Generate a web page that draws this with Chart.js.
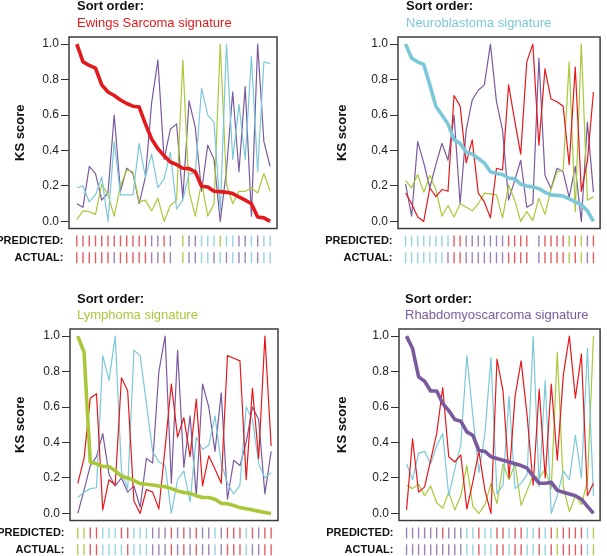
<!DOCTYPE html>
<html>
<head>
<meta charset="utf-8">
<script src="https://cdn.jsdelivr.net/npm/chart.js@4/dist/chart.umd.min.js"></script>
<style>
  body { margin: 0; background: #fff; }
  #wrap { position: relative; width: 607px; height: 556px; overflow: hidden; font-family: 'Liberation Sans', Arial, sans-serif; }
  .t { position: absolute; font-size: 13px; line-height: 13px; font-weight: bold; color: #111; white-space: nowrap; }
  .s { position: absolute; font-size: 13px; line-height: 13px; white-space: nowrap; }
  .p { position: absolute; }
</style>
</head>
<body>
<div id="wrap">
  <div class="p" style="left:0;top:0;width:300px;height:278px"><canvas id="c1"></canvas></div>
  <div class="p" style="left:300px;top:0;width:307px;height:278px"><canvas id="c2"></canvas></div>
  <div class="p" style="left:0;top:292px;width:300px;height:278px"><canvas id="c3"></canvas></div>
  <div class="p" style="left:300px;top:292px;width:307px;height:278px"><canvas id="c4"></canvas></div>

  <div class="t" style="left:77px;top:-1px">Sort order:</div>
  <div class="s" style="left:77px;top:16px;color:#e3191c">Ewings Sarcoma signature</div>
  <div class="t" style="left:406px;top:-1px">Sort order:</div>
  <div class="s" style="left:406px;top:15.5px;color:#7cc8d9">Neuroblastoma signature</div>
  <div class="t" style="left:77px;top:292px">Sort order:</div>
  <div class="s" style="left:77px;top:307.5px;color:#a8c83a">Lymphoma signature</div>
  <div class="t" style="left:405px;top:292px">Sort order:</div>
  <div class="s" style="left:405px;top:307.5px;color:#7a5a9f">Rhabdomyoscarcoma signature</div>
</div>
<script>
// KS scores per sample, samples ordered by the panel's sort signature
// E = Ewings, N = Neuroblastoma, L = Lymphoma, R = Rhabdomyosarcoma
const ewsSortE = [1.0, 0.90, 0.88, 0.865, 0.77, 0.73, 0.71, 0.685, 0.665, 0.65, 0.645, 0.55, 0.465, 0.41, 0.37, 0.335, 0.32, 0.30, 0.298, 0.28, 0.198, 0.194, 0.17, 0.168, 0.164, 0.157, 0.138, 0.12, 0.10, 0.025, 0.02, 0.0];
const ewsSortN = [0.19, 0.20, 0.11, 0.15, 0.25, 0.0, 0.45, 0.15, 0.15, 0.15, 0.44, 0.25, 0.38, 0.19, 0.24, 0.39, 0.07, 0.12, 0.27, 0.27, 0.75, 0.60, 0.56, 0.06, 1.0, 0.35, 0.66, 0.35, 0.93, 0.28, 0.90, 0.89];
const ewsSortL = [0.01, 0.06, 0.055, 0.04, 0.21, 0.15, 0.03, 0.20, 0.29, 0.28, 0.11, 0.12, 0.06, 0.13, 0.0, 0.09, 0.12, 0.91, 0.17, 0.03, 0.22, 0.03, 0.10, 1.0, 0.21, 0.10, 0.17, 0.17, 0.19, 0.16, 0.27, 0.17];
const ewsSortR = [0.10, 0.08, 0.31, 0.27, 0.12, 0.16, 0.60, 0.17, 0.30, 0.27, 0.10, 0.25, 0.67, 0.91, 0.35, 0.52, 0.55, 0.13, 0.68, 0.53, 0.17, 0.43, 0.35, 0.0, 0.29, 0.73, 0.28, 0.76, 0.03, 1.0, 0.45, 0.31];
const ewsSortPredicted = 'EEEEEEEEEEEERRER-LRRNNNLNNRRNRNN';
const ewsSortActual    = 'EEEEEEREEEEERRER-LRRNNRNRNRRNRNN';

const nbSortE = [0.16, 0.10, 0.025, 0.0, 0.19, 0.14, 0.18, 0.17, 0.71, 0.65, 0.33, 0.46, 0.16, 0.11, 0.02, 0.30, 0.29, 0.77, 0.57, 0.38, 0.90, 1.0, 0.43, 0.86, 0.69, 0.675, 0.65, 0.32, 0.87, 0.17, 0.34, 0.73];
const nbSortN = [1.0, 0.92, 0.90, 0.885, 0.77, 0.65, 0.60, 0.55, 0.46, 0.44, 0.39, 0.38, 0.355, 0.33, 0.28, 0.27, 0.265, 0.245, 0.24, 0.21, 0.20, 0.195, 0.185, 0.165, 0.15, 0.147, 0.143, 0.128, 0.11, 0.095, 0.06, 0.0];
const nbSortL = [0.23, 0.19, 0.265, 0.165, 0.26, 0.18, 0.03, 0.09, 0.025, 0.10, 0.08, 0.06, 0.10, 0.16, 0.155, 0.15, 0.02, 0.205, 0.12, 0.0, 0.055, 0.005, 0.13, 0.04, 0.18, 0.28, 0.29, 0.90, 0.055, 1.0, 0.12, 0.14];
const nbSortR = [0.21, 0.03, 0.45, 0.33, 0.19, 0.32, 0.44, 0.345, 0.60, 0.10, 0.515, 0.685, 0.74, 0.77, 1.0, 0.675, 0.515, 0.12, 0.23, 0.345, 0.08, 0.10, 0.92, 0.26, 0.185, 0.30, 0.28, 0.135, 0.31, 0.0, 0.56, 0.165];
const nbSortPredicted = 'NNNNNNNNEERRRRRRREEEE-REEEELELRE';
const nbSortActual    = 'NNNNNNNREERRRRRRREEEE-REEEELELRE';

const blSortE = [0.17, 0.31, 0.65, 0.675, 0.02, 0.19, 0.16, 0.765, 0.69, 0.07, 0.0, 0.135, 0.12, 0.025, 0.37, 0.73, 0.43, 0.54, 0.32, 0.645, 0.155, 0.325, 0.25, 0.17, 0.89, 0.875, 0.86, 0.19, 0.705, 0.31, 1.0, 0.38];
const blSortN = [0.09, 0.12, 0.14, 0.145, 0.89, 0.75, 1.0, 0.24, 0.14, 0.92, 0.89, 0.62, 0.35, 0.29, 0.27, 0.0, 0.19, 0.24, 0.065, 0.43, 0.36, 0.385, 0.55, 0.28, 0.17, 0.11, 0.16, 0.60, 0.53, 0.28, 0.20, 0.23];
const blSortL = [1.0, 0.91, 0.29, 0.28, 0.265, 0.265, 0.24, 0.21, 0.20, 0.185, 0.168, 0.165, 0.16, 0.155, 0.15, 0.14, 0.127, 0.118, 0.113, 0.10, 0.09, 0.09, 0.08, 0.057, 0.055, 0.045, 0.033, 0.026, 0.02, 0.013, 0.005, 0.0];
const blSortR = [0.0, 0.13, 0.27, 0.32, 0.45, 0.22, 0.155, 0.20, 0.12, 0.155, 0.035, 0.31, 0.285, 0.80, 1.0, 0.17, 0.92, 0.26, 0.55, 0.10, 0.73, 0.60, 0.35, 0.68, 0.08, 0.30, 0.27, 0.40, 0.60, 0.53, 0.11, 0.35];
const blSortPredicted = 'LLEENNNEENNNRRRERERERRNREEENEREE';
const blSortActual    = 'LLEENNNNENNNRRRERERERRNREEENRREE';

const rmsSortE = [0.02, 0.42, 0.12, 0.15, 0.30, 0.45, 0.71, 0.32, 0.29, 0.33, 0.025, 0.18, 0.35, 0.13, 0.0, 0.87, 0.69, 0.20, 0.66, 0.86, 0.55, 0.16, 0.70, 0.20, 0.73, 0.30, 0.78, 1.0, 0.65, 0.90, 0.10, 0.17];
const rmsSortN = [0.28, 0.19, 0.34, 0.35, 0.28, 0.38, 0.45, 0.10, 0.25, 0.39, 0.89, 0.55, 0.23, 0.45, 0.88, 0.11, 0.16, 0.66, 0.14, 0.17, 0.22, 1.0, 0.15, 0.75, 0.0, 0.10, 0.24, 0.19, 0.44, 0.20, 0.93, 0.10];
const rmsSortL = [0.16, 0.14, 0.165, 0.10, 0.155, 0.06, 0.03, 0.12, 0.02, 0.10, 0.27, 0.04, 0.0, 0.05, 0.17, 0.055, 0.28, 0.19, 0.28, 0.045, 0.13, 0.215, 0.20, 0.25, 0.14, 0.91, 0.15, 0.01, 0.10, 0.05, 0.18, 1.0];
const rmsSortR = [1.0, 0.93, 0.77, 0.745, 0.69, 0.69, 0.62, 0.58, 0.53, 0.52, 0.46, 0.44, 0.355, 0.35, 0.32, 0.31, 0.30, 0.29, 0.28, 0.27, 0.255, 0.21, 0.17, 0.17, 0.175, 0.13, 0.12, 0.11, 0.10, 0.08, 0.04, 0.0];
const rmsSortPredicted = 'RRRRRRERRRNNENNEENEENNENELEEEENL';
const rmsSortActual    = 'RRRRRRRRRRNNENNEENEENNENELEEEENL';

const yTickValues = [0, 0.2, 0.4, 0.6, 0.8, 1.0];
const predictedY = -0.11;
const actualY = -0.205;

const classColors = { E: '#e3191c', N: '#7cc8d9', L: '#a8c83a', R: '#7a5a9f' };
const tickColors = { E: 'rgba(214,40,44,0.75)', N: 'rgba(124,200,217,0.8)', L: 'rgba(160,196,50,0.85)', R: 'rgba(122,90,159,0.75)' };
const fontFamily = "'Liberation Sans', Arial, sans-serif";

Chart.defaults.font.family = fontFamily;

const panelDeco = {
  id: 'panelDeco',
  afterDatasetsDraw(chart, args, opts) {
    const { ctx, chartArea, scales: { y } } = chart;
    const top = y.getPixelForValue(1.04);
    const bottom = y.getPixelForValue(-0.04);
    ctx.save();
    ctx.strokeStyle = '#3c3c3c';
    ctx.lineWidth = 1.5;
    ctx.strokeRect(chartArea.left, top, chartArea.right - chartArea.left, bottom - top);

    ctx.fillStyle = '#111';
    ctx.font = 'bold 11px ' + fontFamily;
    ctx.textAlign = 'right';
    ctx.textBaseline = 'middle';
    ctx.fillText('PREDICTED:', chartArea.left - 5.5, y.getPixelForValue(predictedY) + 0.5);
    ctx.fillText('ACTUAL:', chartArea.left - 5.5, y.getPixelForValue(actualY) + 0.5);

    ctx.translate(opts.titleX, y.getPixelForValue(0.5));
    ctx.rotate(-Math.PI / 2);
    ctx.font = 'bold 13px ' + fontFamily;
    ctx.textAlign = 'center';
    ctx.fillText('KS score', 0, 0);
    ctx.restore();
  }
};

function lineSet(values, code, width) {
  return {
    data: values.map((v, i) => ({ x: i, y: v })),
    borderColor: classColors[code],
    borderWidth: width,
    pointRadius: 0,
    tension: 0,
    fill: false,
    borderJoinStyle: 'round'
  };
}

function tickSet(codes, yVal) {
  const pts = [];
  const cols = [];
  codes.split('').forEach((c, i) => {
    if (c !== '-') {
      pts.push({ x: i, y: yVal });
      cols.push(tickColors[c]);
    }
  });
  return {
    data: pts,
    showLine: false,
    pointStyle: 'line',
    rotation: 90,
    pointRadius: 5.5,
    pointBorderColor: cols,
    pointBorderWidth: 1.4,
    clip: false
  };
}

const panels = [
  { id: 'c1', axisW: 69, padRight: 23, titleX: 20, sortBy: 'E',
    series: { E: ewsSortE, N: ewsSortN, L: ewsSortL, R: ewsSortR }, pred: ewsSortPredicted, act: ewsSortActual },
  { id: 'c2', axisW: 98, padRight: 2, titleX: 42, sortBy: 'N',
    series: { E: nbSortE, N: nbSortN, L: nbSortL, R: nbSortR }, pred: nbSortPredicted, act: nbSortActual },
  { id: 'c3', axisW: 70, padRight: 22, titleX: 20, sortBy: 'L',
    series: { E: blSortE, N: blSortN, L: blSortL, R: blSortR }, pred: blSortPredicted, act: blSortActual },
  { id: 'c4', axisW: 99, padRight: 1, titleX: 42, sortBy: 'R',
    series: { E: rmsSortE, N: rmsSortN, L: rmsSortL, R: rmsSortR }, pred: rmsSortPredicted, act: rmsSortActual }
];

panels.forEach(p => {
  const datasets = [lineSet(p.series[p.sortBy], p.sortBy, 3.6)];
  ['E', 'N', 'L', 'R'].forEach(code => {
    if (code !== p.sortBy) datasets.push(lineSet(p.series[code], code, 1.2));
  });
  datasets.push(tickSet(p.pred, predictedY));
  datasets.push(tickSet(p.act, actualY));

  new Chart(document.getElementById(p.id), {
    type: 'line',
    data: { datasets },
    options: {
      responsive: true,
      maintainAspectRatio: false,
      animation: false,
      devicePixelRatio: 1,
      layout: { padding: { top: 37, right: p.padRight, bottom: 14, left: 0 } },
      plugins: {
        legend: { display: false },
        tooltip: { enabled: false },
        panelDeco: { titleX: p.titleX }
      },
      scales: {
        x: { type: 'linear', min: -1.25, max: 32.1, display: false },
        y: {
          min: -0.24,
          max: 1.04,
          afterBuildTicks: axis => { axis.ticks = yTickValues.map(v => ({ value: v })); },
          afterFit: scale => { scale.width = p.axisW; },
          ticks: { callback: v => v.toFixed(1), color: '#222', font: { size: 12 }, padding: 2 },
          grid: { drawOnChartArea: false, tickLength: 8, color: '#333' },
          border: { display: false }
        }
      }
    },
    plugins: [panelDeco]
  });
});
</script>
</body>
</html>
